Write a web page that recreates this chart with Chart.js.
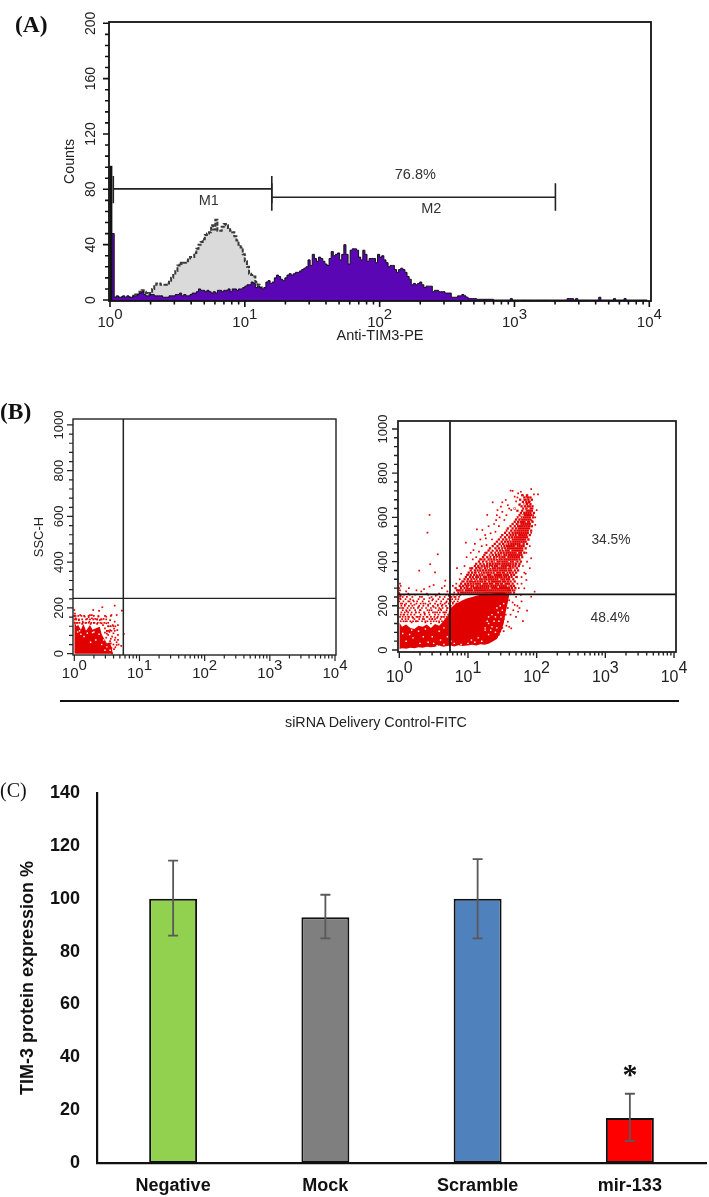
<!DOCTYPE html>
<html>
<head>
<meta charset="utf-8">
<title>TIM-3</title>
<script src="https://cdn.jsdelivr.net/npm/chart.js@4/dist/chart.umd.min.js"></script>
<style>
html, body { margin: 0; padding: 0; background: #fff; }
#page { position: relative; width: 709px; height: 1197px; overflow: hidden; font-family: "Liberation Sans", sans-serif; }
#page canvas { position: absolute; }
.tag { position: absolute; font-family: "Liberation Serif", serif; font-size: 23.5px; line-height: 28px; color: #111; }
#rule { position: absolute; left: 60px; top: 700px; width: 619px; height: 1.5px; background: #111; }
#fitc { position: absolute; left: 176px; width: 400px; top: 713px; text-align: center; font-size: 14.3px; line-height: 18px; color: #222; }
</style>
</head>
<body>
<div id="page">
  <canvas id="histChart" width="709" height="345" style="left:0;top:0"></canvas>
  <canvas id="dotLeft" width="350" height="340" style="left:0;top:395px"></canvas>
  <canvas id="dotRight" width="359" height="340" style="left:350px;top:395px"></canvas>
  <canvas id="barChart" width="709" height="427" style="left:0;top:770px"></canvas>
  <div class="tag" style="left:15px;top:10px;font-weight:bold">(A)</div>
  <div class="tag" style="left:0;top:397px;font-weight:bold">(B)</div>
  <div class="tag" style="left:0;top:776px;font-size:20px">(C)</div>
  <div id="rule"></div>
  <div id="fitc">siRNA Delivery Control-FITC</div>
</div>

<script>
// (A) histogram, counts per channel (256 channels over 4 decades)
var purpleCounts = [48,48,
  2,3,2,2,3,2,3,2,2,3,3,4,
  5,6,4,3,3,4,4,3,3,3,3,2,2,2,3,3,3,
  4,4,5,3,4,3,3,4,5,5,6,8,7,7,6,7,6,5,6,5,7,7,6,7,7,8,6,8,8,7,8,8,
  9,10,11,11,13,12,9,10,9,
  8,9,13,14,12,13,16,18,17,15,14,16,18,19,18,19,20,20,21,
  22,23,24,29,25,33,30,28,31,30,28,26,25,30,35,32,33,34,29,33,40,33,26,36,37,37,36,31,29,36,33,28,30,30,
  30,27,33,31,32,29,27,24,25,25,22,20,22,23,22,20,17,15,11,12,11,12,13,11,9,10,10,10,6,7,7,6,6,6,5,5,5,2,2,2,3,3,4,3,2,1,1,1,1,0.5,
  0.5,0.5,0.5,0.5,0.5,0.5,0.5,0,0,0,0,0,0,0,0,1,0,0,0,0,0,0,0,0,0,0,0,0,0,0,0,0,0,0,0,0,0,0,0,0,0,0,1,1,1,0,1,0,0,0,0,0,0,0,0,0,0,2,0,0,0,0,0,0,1,0,0,0,0,1,0,0,0,0,0,0,0,0,0,0,0];
var greyCounts = [2,2,
  2,2,2,2,2,2,2,2,2,3,4,4,
  6,7,6,5,4,5,8,11,12,12,11,11,11,12,14,16,18,21,25,27,26,27,28,30,31,31,
  34,37,40,42,44,47,48,49,54,51,58,50,50,53,55,54,52,50,49,46,43,40,38,33,28,24,19,18,17,13,11,9,5,3,2];
var spikeX = [1.017, 1.017];
var spikeY = [0, 97];
var countMajors = [0, 40, 80, 120, 160, 200];
var decades = [1, 10, 100, 1000, 10000];
var m1GateX = [1.058, 1.058, 1.058, 15.85, 15.85, 15.85];
var m1GateY = [89.7, 70, 80.3, 80.3, 89.7, 70];
var m2GateX = [15.85, 15.85, 15.85, 2012, 2012, 2012];
var m2GateY = [84.4, 64.6, 74.3, 74.3, 84.4, 64.6];

// (B) dot plots: x as log10 of FITC, y as SSC-H
var sscMajors = [0, 200, 400, 600, 800, 1000];
var leftBandLog = [0, .03, .06, .1, .14, .18, .24, .28, .34, .39, .42, .44, .47, .5, .54, .57, .59];
var leftBandLow = [0, 0, 0, 0, 0, 0, 0, 0, 0, 0, 0, 0, 0, 0, 0, 0, 0];
var leftBandHigh = [150, 120, 125, 105, 130, 100, 125, 105, 112, 118, 85, 74, 60, 45, 50, 30, 5];
var leftDots = [[.62,210],[.43,203],[0,191],[.73,188],[.38,187],[.29,191],[.24,169],[.09,169],[.16,162],[.27,169],[.37,162],[.49,162],[.57,169],[.65,169],[.2,152],[.32,152],[.39,147],[.45,152],[.55,147],[.62,140],[.67,125],[.07,147],[.13,140],[.23,140],[.49,133],[.59,125],[.42,133],[.66,103],[.55,103],[.47,111],[.6,89],[.67,82],[.76,86],[.52,82],[.62,60],[.67,60],[.72,34],[.56,45],[.65,38],[.61,20],[.58,1],
  [.5,100],[.52,120],[.44,125],[.35,130],[.3,135],[.25,130],[.18,135],[.12,130],[.05,135],[.03,150],[0,165],[.01,175],[.02,155],[.54,95],[.58,75],[.63,70],[.56,65],[.5,88],[.47,92],[.65,50],[.68,40],[.6,40],[.63,28],[.57,25],[.53,35],[.55,55],[.49,70],[.61,110],[.56,120],[.42,150],[.35,150],[.27,155],[.22,160]];
var leftRowSsc = [100, 120, 135, 150, 165];
var leftRowLogs = [[50,53,57,62],[52,55,60,63],[1,4,8,13,17,22,26,31,36,40,46,52],[1,3,7,12,18,24,29,35,41,49],[0,2,6,11,15,22,30,37,47,56]];
var leftHoles = [[.1,85],[.2,90],[.3,95],[.38,85],[.45,60],[.33,60],[.15,75],[.25,50],[.5,30],[.55,15],[.47,15],[.42,40],[.08,100],[.28,92],[.05,95]];

var coreLog = [0, .04, .1, .16, .22, .28, .34, .4, .46, .52, .58, .64, .7, .75, .8, .86, .92, .99, 1.06, 1.12, 1.18, 1.24, 1.3, 1.36, 1.42, 1.48, 1.52, 1.55, 1.58, 1.6];
var coreLow = [5, 8, 6, 10, 8, 12, 10, 15, 13, 15, 20, 15, 18, 20, 16, 22, 18, 20, 24, 20, 26, 24, 28, 38, 50, 83, 120, 173, 215, 249];
var coreHigh = [125, 105, 115, 100, 95, 110, 105, 115, 100, 118, 110, 130, 150, 189, 205, 215, 225, 234, 240, 245, 250, 249, 252, 256, 258, 264, 262, 256, 252, 249];
var rightDots = [[1.62,721],[1.65,720],[1.92,728],[2.02,704],[1.96,704],[1.73,709],[1.77,716],[1.85,694],[1.82,679],[1.68,694],[1.55,679],[1.36,668],[1.48,649],[1.43,633],[1.28,611],[1.13,546],[1.21,543],[.97,486],[.44,611],[.41,531],[.56,433],[.45,388],[.29,359],[.52,351],[.67,314],[.5,294],[.44,287],[.84,370],[1.08,452],[1.16,445],[1.26,505],[1.33,528],[1.41,588],[1.53,588],[1.63,633],[1.75,656],[1.87,664],[2,633],[1.98,566],[1.92,415],[1.9,370],[1.85,317],[1.82,279],[1.97,264],[1.92,241],[1.86,178],[1.8,131],[1.73,173],[1.68,204],[1.63,98],[1.58,128],[1.77,249],
  [1.5,668],[1.58,655],[1.6,640],[1.7,672],[1.72,690],[1.8,700],[1.88,690],[1.9,672],[1.94,640],[1.95,610],[1.93,585],[1.98,600],[1.9,560],[1.92,530],[1.88,500],[1.9,470],[1.85,440],[1.86,400],[1.8,380],[1.84,345],[1.78,330],[1.72,300],[1.42,610],[1.46,600],[1.38,570],[1.3,560],[1.25,520],[1.18,500],[1.1,480],[1.04,440],[.98,420],[1.07,410],[.95,380],[.9,345],[.88,320],[.94,310],[1,340],[1.03,370],[1.12,420],[1.2,470],[1.27,475],[1.35,500],[1.4,535],[1.45,560],[1.5,625],[1.56,610],
  [1.55,235],[1.6,225],[1.65,215],[1.7,240],[1.72,200],[1.66,180],[1.62,160],[1.58,190],[1.55,160],[1.52,140],[1.56,110],[1.5,100],[1.6,105],[1.45,70],[1.42,60],[1.48,110],[1.52,85],[1.7,150],[1.75,190],[1.78,220],[1.6,270],[1.68,270],[1.74,280],[1.78,300],[1.7,330],[1.82,350],
  [.01,300],[.02,290],[0,280],[.01,270],[0,258],[.02,245],[.01,232],[0,220],[.02,210],[.05,240],[.1,265],[.14,280],[.13,255],[.2,225],[.25,270],[.3,240],[.32,265],[.36,275],[.4,255],[.44,235],[.48,225],[.53,245],[.58,255],[.62,280],[.66,290],[.7,265],[.72,245],[.78,290],[.74,225],[.68,215],[.63,205],[.56,205],[.5,195],[.42,205],[.35,210],[.28,195],[.22,205],[.15,220],[.08,205],[.04,190],[.11,175],[.17,190],[.24,170],[.3,180],[.37,165],[.44,180],[.52,170],[.6,185],[.66,170],[.7,190],[.75,200],[.06,160],[.13,150],[.2,145],[.27,150],[.34,140],[.41,150],[.48,140],[.55,145],[.62,150],[.68,135],[.73,160],[.09,130],[.18,125],[.25,130],[.38,125],[.46,120],[.58,125],
  [.78,215],[.82,240],[.86,270],[.9,285],[.83,300],[.96,295],[1,320],[1.05,310],[.8,260],[.76,240],[.88,250],[1.1,350],[1.15,375],[1.2,410],[1.25,440]];
// rows of dots read band by band: SSC-H level, then log10 x in hundredths
var rightRowSsc = [130, 140, 150, 160, 170, 180, 190, 200, 210, 220, 230, 240, 250];
var rightRowLogs = [
  [2,6,11,16,20,24,27,33,38,41,46,50,54,58,62,66,70,74],
  [4,9,13,22,29,36,44,48,52,60,67,71],
  [1,5,9,14,19,25,30,35,40,46,51,56,61,65,69,72,76],
  [2,7,12,17,22,31,37,44,52,57,66,71,77],
  [3,8,13,18,24,29,36,43,49,55,59,64,68,73,78],
  [5,10,15,23,31,41,47,57,61,69,76],
  [1,6,12,21,27,33,39,46,53,58,63,70,75,80],
  [3,8,14,19,29,35,42,49,56,62,68,74,81],
  [4,10,17,25,31,38,45,52,60,66,72,78,83],
  [6,13,21,26,34,43,54,61,69,75,80,85],
  [2,9,16,28,36,49,57,64,71,77,82,86],
  [1,11,19,33,47,59,66,74,80,87],
  [0,7,15,23,42,55,68,79,84,89]];
var wingRowSsc = [260, 270, 280, 290, 300, 310, 320, 330, 340, 350, 360, 370, 380, 390, 400, 410, 420, 430, 440, 450, 460, 470, 480, 490, 500, 510, 520, 530, 540, 550, 560, 570, 580, 590, 600, 610, 620, 630, 640, 650, 660, 670, 680, 690, 700];
var wingRowLogs = [
  [86,90,93,96,99,102,105,108,111,114,117,120,123,126,129,132,135,138,141,144,147,150,153,156,159,162,167],
  [84,88,92,97,100,103,106,110,113,116,119,122,125,128,131,134,137,140,143,146,149,152,155,158,161,165],
  [82,90,95,99,102,105,109,112,115,118,121,124,127,130,133,136,139,142,145,148,151,154,157,160,164,169],
  [88,93,98,101,105,108,111,114,118,121,124,127,130,134,137,140,143,146,149,152,155,159,163,167],
  [90,96,100,104,108,112,115,118,122,125,128,132,135,138,141,144,148,151,154,157,160,165],
  [92,99,103,107,110,114,118,121,125,128,131,135,138,141,144,147,151,154,158,162,168],
  [95,100,105,109,113,117,120,124,127,131,134,137,140,143,147,150,153,157,160,166],
  [97,103,107,112,115,119,123,126,130,133,136,140,143,146,149,153,156,160,164,171],
  [99,104,109,113,117,121,125,129,132,135,139,142,145,148,152,155,158,163,167],
  [101,106,111,116,119,123,127,130,134,138,141,144,147,151,154,157,161,165,170],
  [104,110,114,118,122,126,130,133,137,140,143,147,150,153,156,160,163,168,173],
  [106,112,117,121,125,129,132,136,139,143,146,149,152,155,159,162,166,171],
  [110,115,120,124,128,132,135,139,142,145,149,152,155,158,161,165,169,174],
  [112,118,123,128,132,136,140,143,146,150,153,156,159,162,166,170,175],
  [116,122,127,131,135,139,143,146,150,153,156,159,162,165,168,172,177],
  [118,124,130,134,138,142,146,149,153,156,159,162,165,168,171,175],
  [122,128,133,138,142,146,150,153,156,159,162,165,168,171,174,179],
  [124,131,136,141,145,149,153,156,160,163,166,169,172,175,178],
  [127,134,140,144,148,152,156,159,162,165,168,171,174,177,182],
  [130,136,142,147,151,155,158,161,164,167,170,173,176,179],
  [132,140,145,150,154,158,161,164,167,170,173,176,179,184],
  [136,143,148,153,157,160,163,166,169,172,175,178,181],
  [139,146,151,155,159,163,166,169,172,175,178,181,186],
  [142,149,154,158,162,166,169,172,175,178,181,184],
  [145,151,156,161,165,168,171,174,177,180,183,188],
  [148,154,160,164,168,171,174,177,180,183,186],
  [150,157,162,166,170,173,176,179,182,185,190],
  [154,160,165,169,172,175,178,181,184,187],
  [156,163,168,172,175,178,181,184,187,192],
  [158,165,170,174,177,180,183,186,189],
  [162,168,173,176,179,182,185,188,193],
  [165,171,175,178,181,184,187,190],
  [168,173,177,180,183,186,189,194],
  [170,175,179,182,185,188,191],
  [172,177,181,184,187,190,195],
  [175,180,183,186,189,192],
  [177,182,185,188,191,196],
  [172,179,184,187,190,193],
  [168,180,185,188,192],
  [178,183,187,190,194],
  [175,182,186,191],
  [180,185,189],
  [176,184,188,193],
  [182,187,191],
  [179,186]];
var rightHoles = [[.1,40],[.15,70],[.2,55],[.3,30],[.35,60],[.42,35],[.48,60],[.5,30],[.55,20],[.6,45],[.65,25],[.7,60],[.75,40],[.8,30],[.9,25],[1,30],[1.05,45],[.28,85],[.18,90],[.05,75],[.38,95],[.58,85],[.65,100],[1.1,35],[1.15,55],[1.2,40],[1.3,70],[1.25,90],
  [1.25,100],[1.3,120],[1.35,105],[1.38,130],[1.42,100],[1.4,150],[1.45,130],[1.48,150],[1.44,170],[1.5,180],[1.47,200],[1.35,160],[1.3,150],[1.4,80],[1.28,130],[1.33,90],[1.42,190],[1.52,210],
  [1.1,290],[1.15,320],[1.2,300],[1.25,340],[1.18,350],[1.3,370],[1.35,340],[1.28,310],[1.4,400],[1.45,380],[1.38,300],[1.35,420],[1.42,440],[1.5,430],[1.47,470],[1.55,350],[1.6,400],[1.52,300],[1.58,290],[1.3,400],[1.22,370],[1.5,510],[1.55,480],[1.58,530],[1.65,560],[1.62,500],[1.7,470],[1.68,400],[1.72,520],[1.75,570],[1.78,480],[1.7,600],[1.8,610],[1.85,580],[1.83,630],[1.88,640],[1.78,640],[1.62,450],[1.56,420],[1.66,330],
  [1.02,285],[1.08,315],[1.14,345],[1.2,330],[1.24,395],[1.3,430],[1.33,375],[1.37,455],[1.43,415],[1.4,350],[1.46,320],[1.32,280],[1.48,500],[1.52,455],[1.54,540],[1.6,590],[1.63,610],[1.68,640],[1.74,665],[1.82,660],[1.44,285],[1.66,365],[1.58,375],[1.72,440],[1.76,600]];

// (C) bars
var groups = ['Negative', 'Mock', 'Scramble', 'mir-133'];
var expression = [100, 93, 100, 17];
var errHigh = [114.4, 101.5, 115, 26.2];
var errLow = [86, 85, 85, 8.3];
var barColors = ['#92D050', '#7F7F7F', '#4F81BD', '#FF0000'];
var expressionTicks = [0, 20, 40, 60, 80, 100, 120, 140];

var sans = 'Liberation Sans';

// frame, tick marks of two lengths, and 10^n labels
var flowAxes = {
  id: 'flowAxes',
  afterDraw: function (chart, args, o) {
    var ctx = chart.ctx, a = chart.chartArea, sx = chart.scales.x, sy = chart.scales.y;
    ctx.save();
    ctx.strokeStyle = o.color;
    ctx.fillStyle = '#222';
    ctx.lineWidth = o.frame;
    ctx.strokeRect(a.left, a.top, a.right - a.left, a.bottom - a.top);
    ctx.lineWidth = o.tick;
    ctx.beginPath();
    sx.ticks.forEach(function (t) {
      var px = sx.getPixelForValue(t.value);
      ctx.moveTo(px, a.bottom);
      ctx.lineTo(px, a.bottom + (t.major ? o.xLong : o.xShort));
    });
    sy.ticks.forEach(function (t) {
      var py = sy.getPixelForValue(t.value);
      ctx.moveTo(a.left, py);
      ctx.lineTo(a.left - (t.major ? o.yLong : o.yShort), py);
    });
    ctx.stroke();
    ctx.font = o.labelSize + 'px "' + sans + '"';
    ctx.textBaseline = 'alphabetic';
    ctx.textAlign = 'left';
    decades.forEach(function (d, i) {
      var px = sx.getPixelForValue(d), sup = String(i);
      var w10 = ctx.measureText('10').width, wSup = ctx.measureText(sup).width;
      var left = px - (w10 + wSup) / 2;
      ctx.fillText('10', left, a.bottom + o.labelDy);
      ctx.fillText(sup, left + w10, a.bottom + o.labelDy - o.supDy);
    });
    ctx.restore();
  }
};

// free text pinned to data values
var notesPlugin = {
  id: 'notes',
  afterDraw: function (chart, args, o) {
    var ctx = chart.ctx;
    ctx.save();
    ctx.textAlign = 'center';
    ctx.textBaseline = 'middle';
    ctx.fillStyle = o.color;
    ctx.font = o.font;
    o.items.forEach(function (n) {
      ctx.fillText(n.text, chart.scales.x.getPixelForValue(n.x), chart.scales.y.getPixelForValue(n.y));
    });
    ctx.restore();
  }
};

function decadeTicks() {
  var out = [];
  decades.forEach(function (d) {
    if (d === 10000) { out.push({ value: d, major: true }); return; }
    [1, 2, 3, 4, 5, 6, 7, 8, 9].forEach(function (m) {
      out.push({ value: d * m, major: m === 1 });
    });
  });
  return out;
}

function linearTicks(majors, parts) {
  var out = [];
  majors.forEach(function (v, i) {
    out.push({ value: v, major: true });
    if (i < majors.length - 1) {
      var step = (majors[i + 1] - v) / parts;
      for (var k = 1; k < parts; k++) out.push({ value: v + step * k, major: false });
    }
  });
  return out;
}

function pairs(xs, ys) {
  return xs.map(function (x, i) { return { x: x, y: ys[i] }; });
}
function logPairs(xs, ys) {
  return xs.map(function (l, i) { return { x: Math.pow(10, l), y: ys[i] }; });
}
function dotPoints(list) {
  return list.map(function (p) { return { x: Math.pow(10, p[0]), y: p[1] }; });
}
function rowPoints(sscLevels, rows) {
  var out = [];
  rows.forEach(function (row, i) {
    row.forEach(function (c) { out.push({ x: Math.pow(10, c / 100), y: sscLevels[i] }); });
  });
  return out;
}

// the y scale keeps the plot box exactly where it was asked to be
function flowScales(s) {
  return {
    x: {
      type: 'logarithmic', min: s.xMin, max: s.xMax, bounds: 'data',
      afterBuildTicks: function (scale) { scale.ticks = decadeTicks(); },
      afterFit: function (scale) { scale.height = s.bottom; },
      grid: { display: false }, border: { display: false },
      ticks: { display: false, autoSkip: false },
      title: s.xTitle ? { display: true, text: s.xTitle, color: '#222', font: { family: sans, size: 14.5 }, padding: { top: s.xTitlePad, bottom: 0 } } : { display: false }
    },
    y: {
      type: 'linear', min: s.yMin, max: s.yMax, bounds: 'data',
      afterBuildTicks: function (scale) { scale.ticks = linearTicks(s.majors, 5); },
      afterFit: function (scale) { scale.width = s.left; scale.paddingTop = 0; scale.paddingBottom = 0; },
      grid: { display: false }, border: { display: false },
      ticks: {
        autoSkip: false, minRotation: 90, maxRotation: 90, crossAlign: 'center',
        padding: s.tickPad, color: '#222', font: { family: sans, size: s.tickSize },
        callback: function (v) { return s.majors.indexOf(v) >= 0 ? String(v) : ''; }
      },
      title: s.yTitle ? { display: true, text: s.yTitle, color: '#222', font: { family: sans, size: s.yTitleSize }, padding: { top: s.yTitlePad, bottom: 0 } } : { display: false }
    }
  };
}

function lineSet(data, color, width) {
  return { data: data, showLine: true, pointRadius: 0, borderColor: color, borderWidth: width, fill: false };
}
function dotSet(points, color, size) {
  return { data: points, showLine: false, pointStyle: 'rect', pointRadius: size, pointBorderWidth: 0, pointBackgroundColor: color };
}
function bandSets(logs, low, high, color) {
  return [
    { data: logPairs(logs, low), showLine: true, pointRadius: 0, borderWidth: 0, backgroundColor: color, fill: '+1' },
    { data: logPairs(logs, high), showLine: true, pointRadius: 0, borderWidth: 0, fill: false }
  ];
}

// ---- (A)
var channelX = function (i) { return Math.pow(10, i / 64); };
new Chart(document.getElementById('histChart'), {
  type: 'scatter',
  data: {
    datasets: [
      lineSet(pairs(m1GateX, m1GateY), '#222', 1.6),
      lineSet(pairs(m2GateX, m2GateY), '#222', 1.6),
      lineSet(pairs(spikeX, spikeY), '#111', 2.8),
      { data: purpleCounts.map(function (c, i) { return { x: channelX(i), y: c }; }), showLine: true, stepped: true, pointRadius: 0, borderColor: '#111', borderWidth: 1, backgroundColor: '#5A06B4', fill: 'start' },
      { data: greyCounts.map(function (c, i) { return { x: channelX(i), y: c }; }), showLine: true, stepped: true, pointRadius: 0, borderColor: '#3a3a3a', borderWidth: 2, borderDash: [4, 1.5], backgroundColor: '#DADADA', fill: 'start' }
    ]
  },
  options: {
    responsive: false, animation: false,
    layout: { padding: { top: 22, right: 58, left: 0, bottom: 0 } },
    scales: flowScales({ xMin: 0.983, xMax: 10295, yMin: -0.72, yMax: 200.94, left: 109, bottom: 44, majors: countMajors, tickPad: -2, tickSize: 14, yTitle: 'Counts', yTitleSize: 14.2, yTitlePad: 62, xTitle: 'Anti-TIM3-PE', xTitlePad: 0 }),
    plugins: {
      legend: { display: false }, tooltip: { enabled: false },
      flowAxes: { color: '#111', frame: 1.8, tick: 1.6, xLong: 6, xShort: 3.5, yLong: 6, yShort: 4, labelSize: 15, labelDy: 26, supDy: 8 },
      notes: { color: '#333', font: '14.5px "' + sans + '"', items: [
        { text: 'M1', x: 5.41, y: 71.6 }, { text: 'M2', x: 241.5, y: 65.8 }, { text: '76.8%', x: 183.9, y: 90.4 }
      ] }
    }
  },
  plugins: [flowAxes, notesPlugin]
});

// ---- (B) left
var leftVertical = [5.65, 5.65], leftVerticalY = [-5.7, 1026];
var leftHorizontal = [0.955, 10360], leftHorizontalY = [242, 242];
new Chart(document.getElementById('dotLeft'), {
  type: 'scatter',
  data: {
    datasets: [
      lineSet(pairs(leftVertical, leftVerticalY), '#222', 1.5),
      lineSet(pairs(leftHorizontal, leftHorizontalY), '#222', 1.3),
      dotSet(dotPoints(leftHoles), '#ffffff', 1),
      dotSet(dotPoints(leftDots), '#E60000', 1.2),
      dotSet(rowPoints(leftRowSsc, leftRowLogs), '#E60000', 1.2)
    ].concat(bandSets(leftBandLog, leftBandLow, leftBandHigh, '#E00000'))
  },
  options: {
    responsive: false, animation: false,
    layout: { padding: { top: 24, right: 14, left: 0, bottom: 0 } },
    scales: flowScales({ xMin: 0.955, xMax: 10360, yMin: -5.7, yMax: 1026, left: 73, bottom: 80, majors: sscMajors, tickPad: -9, tickSize: 13, yTitle: 'SSC-H', yTitleSize: 13, yTitlePad: 32 }),
    plugins: {
      legend: { display: false }, tooltip: { enabled: false },
      flowAxes: { color: '#222', frame: 1.4, tick: 1.2, xLong: 6, xShort: 3.5, yLong: 6, yShort: 4, labelSize: 15, labelDy: 23, supDy: 8 },
      notes: { color: '#333', font: '13px "' + sans + '"', items: [] }
    }
  },
  plugins: [flowAxes, notesPlugin]
});

// ---- (B) right
var rightVertical = [5.47, 5.47], rightVerticalY = [-9, 1036];
var rightHorizontal = [0.957, 10693], rightHorizontalY = [252, 252];
new Chart(document.getElementById('dotRight'), {
  type: 'scatter',
  data: {
    datasets: [
      lineSet(pairs(rightVertical, rightVerticalY), '#111', 1.7),
      lineSet(pairs(rightHorizontal, rightHorizontalY), '#111', 1.7),
      dotSet(dotPoints(rightHoles), '#ffffff', 1),
      dotSet(dotPoints(rightDots), '#E60000', 1.2),
      dotSet(rowPoints(rightRowSsc, rightRowLogs), '#E60000', 1.2),
      dotSet(rowPoints(wingRowSsc, wingRowLogs), '#E00000', 1.6)
    ].concat(bandSets(coreLog, coreLow, coreHigh, '#E00000'))
  },
  options: {
    responsive: false, animation: false,
    layout: { padding: { top: 26, right: 33, left: 0, bottom: 0 } },
    scales: flowScales({ xMin: 0.957, xMax: 10693, yMin: -9, yMax: 1036, left: 48, bottom: 83, majors: sscMajors, tickPad: -8, tickSize: 13 }),
    plugins: {
      legend: { display: false }, tooltip: { enabled: false },
      flowAxes: { color: '#222', frame: 1.8, tick: 1.4, xLong: 6, xShort: 3.5, yLong: 6, yShort: 4, labelSize: 16, labelDy: 30, supDy: 9 },
      notes: { color: '#333', font: '13.8px "' + sans + '"', items: [
        { text: '34.5%', x: 1208, y: 496 }, { text: '48.4%', x: 1175, y: 142 }
      ] }
    }
  },
  plugins: [flowAxes, notesPlugin]
});

// ---- (C)
var whiskers = {
  id: 'whiskers',
  afterDatasetsDraw: function (chart) {
    var ctx = chart.ctx, sx = chart.scales.x, sy = chart.scales.y;
    ctx.save();
    ctx.strokeStyle = '#595959';
    ctx.lineWidth = 1.8;
    ctx.beginPath();
    groups.forEach(function (g, i) {
      var px = sx.getPixelForValue(i), hi = sy.getPixelForValue(errHigh[i]), lo = sy.getPixelForValue(errLow[i]);
      ctx.moveTo(px, hi); ctx.lineTo(px, lo);
      ctx.moveTo(px - 5, hi); ctx.lineTo(px + 5, hi);
      ctx.moveTo(px - 5, lo); ctx.lineTo(px + 5, lo);
    });
    ctx.stroke();
    ctx.restore();
  }
};

new Chart(document.getElementById('barChart'), {
  type: 'bar',
  data: {
    labels: groups,
    datasets: [{
      data: expression, backgroundColor: barColors, borderColor: '#111', borderWidth: 2, borderSkipped: false,
      barPercentage: 0.315, categoryPercentage: 1
    }]
  },
  options: {
    responsive: false, animation: false,
    layout: { padding: { top: 23, right: 3, left: 0, bottom: 0 } },
    scales: {
      x: {
        afterFit: function (scale) { scale.height = 34; },
        grid: { display: false, drawTicks: false },
        border: { color: '#111', width: 2.2 },
        ticks: { color: '#111', padding: 12, font: { family: sans, size: 18, weight: 'bold' } }
      },
      y: {
        min: 0, max: 140,
        afterBuildTicks: function (scale) { scale.ticks = expressionTicks.map(function (v) { return { value: v }; }); },
        afterFit: function (scale) { scale.width = 97; scale.paddingTop = 0; scale.paddingBottom = 0; },
        grid: { display: false, drawTicks: false },
        border: { color: '#111', width: 2.2 },
        ticks: { color: '#111', padding: 17, font: { family: sans, size: 18, weight: 'bold' } },
        title: { display: true, text: 'TIM-3 protein expression %', color: '#111', font: { family: sans, size: 18, weight: 'bold' }, padding: { top: 17, bottom: 0 } }
      }
    },
    plugins: {
      legend: { display: false }, tooltip: { enabled: false },
      notes: { color: '#111', font: 'bold 30px "Liberation Serif"', items: [{ text: '*', x: 3, y: 33 }] }
    }
  },
  plugins: [whiskers, notesPlugin]
});
</script>
</body>
</html>
